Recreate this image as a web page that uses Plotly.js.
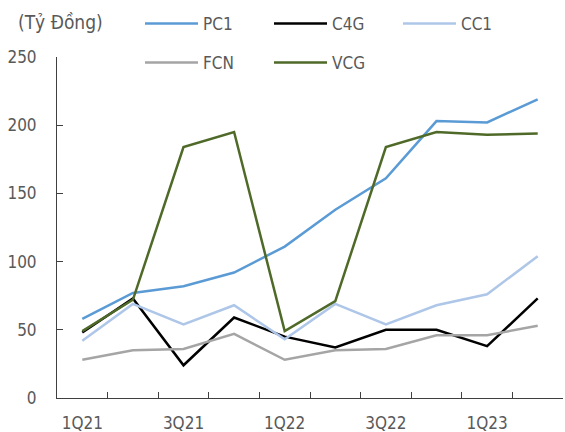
<!DOCTYPE html>
<html>
<head>
<meta charset="utf-8">
<script src="https://cdn.plot.ly/plotly-3.0.1.min.js"></script>
<style>html,body{margin:0;padding:0;background:#fff;}#chart{width:565px;height:432px;}</style>
</head>
<body>
<div id="chart"></div>
<script>
const quarters = ['1Q21','2Q21','3Q21','4Q21','1Q22','2Q22','3Q22','4Q22','1Q23','2Q23'];
const tickLabels = ['1Q21','','3Q21','','1Q22','','3Q22','','1Q23',''];
const PC1 = [58, 77, 82, 92, 111, 138, 161, 203, 202, 219];
const C4G = [48, 73, 24, 59, 45, 37, 50, 50, 38, 73];
const CC1 = [42, 69, 54, 68, 43, 69, 54, 68, 76, 104];
const FCN = [28, 35, 36, 47, 28, 35, 36, 46, 46, 53];
const VCG = [49, 72, 184, 195, 49, 71, 184, 195, 193, 194];
const unitLabel = '(Tỷ Đồng)';

const FONT = '"DejaVu Sans Condensed", "Liberation Sans", sans-serif';
const TXT = '#595959';

function tr(name, y, color, legend) {
  return {x: quarters, y: y, name: name, type: 'scatter', mode: 'lines',
          line: {color: color, width: 2.5}, legend: legend};
}
const data = [
  tr('PC1', PC1, '#5B9BD5', 'legend'),
  tr('C4G', C4G, '#000000', 'legend'),
  tr('CC1', CC1, '#AEC6E8', 'legend'),
  tr('FCN', FCN, '#A5A5A5', 'legend2'),
  tr('VCG', VCG, '#4F6A28', 'legend2')
];
const legendCommon = {
  orientation: 'h', xref: 'container', yref: 'container', xanchor: 'left', yanchor: 'middle',
  x: 140/565, entrywidth: 61, entrywidthmode: 'pixels', itemwidth: 53,
  font: {family: FONT, size: 17, color: TXT}, bgcolor: 'rgba(0,0,0,0)', traceorder: 'normal'
};
const layout = {
  width: 565, height: 432,
  margin: {l: 57, r: 2, t: 57, b: 34, autoexpand: false},
  paper_bgcolor: '#fff', plot_bgcolor: '#fff',
  font: {family: FONT, size: 17, color: TXT},
  showlegend: true,
  legend: Object.assign({}, legendCommon, {y: 1 - 24/432}),
  legend2: Object.assign({}, legendCommon, {y: 1 - 63/432}),
  title: {text: unitLabel, xref: 'container', yref: 'container', x: 18/565, xanchor: 'left',
          y: 1 - 22/432, yanchor: 'middle', font: {family: FONT, size: 19, color: TXT}},
  xaxis: {type: 'category', range: [-0.5, 9.5], tickmode: 'array', tickvals: quarters, ticktext: tickLabels,
          tickson: 'boundaries', ticks: 'inside', ticklen: 6, tickcolor: '#404040', tickwidth: 1,
          showline: true, linecolor: '#404040', linewidth: 1, showgrid: false, zeroline: false,
          ticklabelstandoff: 10, tickfont: {family: FONT, size: 17, color: TXT}},
  yaxis: {range: [0, 250], dtick: 50, ticks: 'inside', ticklen: 6, tickcolor: '#404040', tickwidth: 1,
          showline: true, linecolor: '#404040', linewidth: 1, showgrid: false, zeroline: false,
          ticklabelstandoff: 16, tickfont: {family: FONT, size: 17, color: TXT}}
};
Plotly.newPlot('chart', data, layout, {displayModeBar: false, staticPlot: true});
</script>
</body>
</html>
